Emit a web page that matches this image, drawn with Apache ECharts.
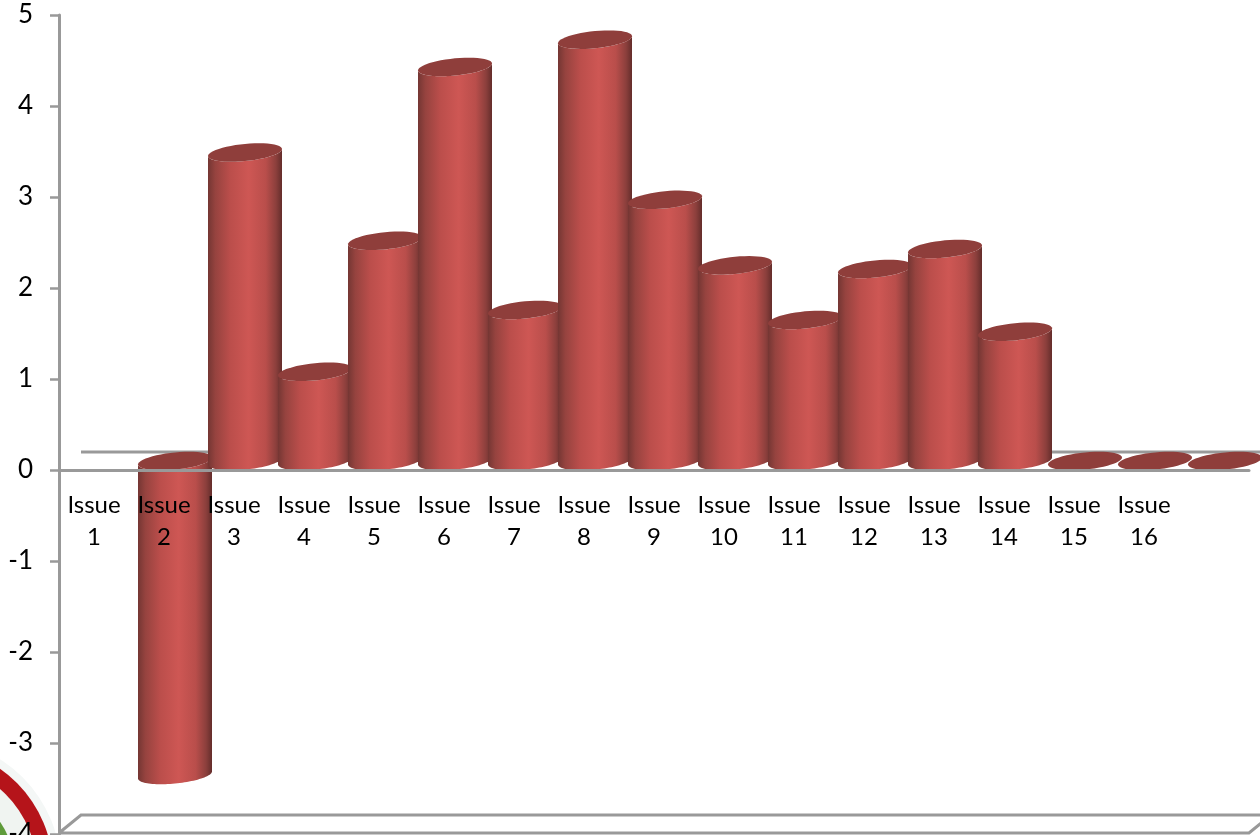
<!DOCTYPE html>
<html>
<head>
<meta charset="utf-8">
<style>
  html, body { margin: 0; padding: 0; background: #fff; }
  #chart { width: 1260px; height: 835px; }
</style>
<script src="https://cdn.jsdelivr.net/npm/echarts@6/dist/echarts.min.js"></script>
</head>
<body>
<div id="chart"></div>
<script>
// Scores per issue; Issue 1 has no reading and the last slot has no label.
const categories = ['Issue 1','Issue 2','Issue 3','Issue 4','Issue 5','Issue 6','Issue 7','Issue 8',
                    'Issue 9','Issue 10','Issue 11','Issue 12','Issue 13','Issue 14','Issue 15','Issue 16',''];
const scores = [null,-3.45,3.39,0.98,2.42,4.33,1.66,4.63,2.87,2.15,1.55,2.11,2.33,1.42,0,0,0];
const floorLevels = [-4, 0];
const yMin = -4, yMax = 5;

const GRID = { left: 59, top: 15, width: 1190, height: 819 };
const DEPTH_X = 22, DEPTH_Y = 18;      // pseudo-3D offset of the back wall
const RADIUS_X = 37, RADIUS_Y = 8.6;   // cylinder cap size
const TILT = 3.5;                      // cap skew, left end low and right end high
const AXIS_GREY = '#999999';
const FONT = 'Lato';

const body = {
  type: 'linear', x: 0, y: 0, x2: 1, y2: 0,
  colorStops: [
    { offset: 0, color: '#743633' },
    { offset: 0.1, color: '#96433f' },
    { offset: 0.3, color: '#bb4e4b' },
    { offset: 0.55, color: '#ce5754' },
    { offset: 0.78, color: '#b94e4b' },
    { offset: 0.92, color: '#8b3f3c' },
    { offset: 1, color: '#642d2b' }
  ]
};

// Point on a skewed cap outline; t=0 is the right end, t=PI the left end.
function capPoint(cx, cy, t) {
  return [cx + RADIUS_X * Math.cos(t), cy + RADIUS_Y * Math.sin(t) - TILT * Math.cos(t)];
}
function arc(cx, cy, from, to) {
  const pts = [];
  for (let i = 0; i <= 48; i++) pts.push(capPoint(cx, cy, from + (to - from) * i / 48));
  return pts;
}

function renderCylinder(params, api) {
  const v = api.value(1);
  if (v == null || isNaN(v)) return null;
  const cx = api.coord([api.value(0), 0])[0] + DEPTH_X / 2;
  const yBase = api.coord([0, 0])[1] - DEPTH_Y / 2;
  const yValue = api.coord([0, v])[1] - DEPTH_Y / 2;
  const yTop = Math.min(yBase, yValue), yBottom = Math.max(yBase, yValue);
  const children = [];
  if (yBottom > yTop) {
    children.push({
      type: 'polygon',
      shape: { points: arc(cx, yBottom, 0, Math.PI).concat(arc(cx, yTop, Math.PI, 0)) },
      style: { fill: body }
    });
  }
  children.push({
    type: 'polygon',
    shape: { points: arc(cx, yTop, 0, Math.PI * 2) },
    style: { fill: '#8f3e3b' }
  });
  return { type: 'group', children };
}

function renderFloor(params, api) {
  const level = api.value(0);
  const grid = params.coordSys;
  const y = api.coord([0, level])[1];
  const left = grid.x, right = grid.x + grid.width;
  const line = { stroke: AXIS_GREY, lineWidth: 3, fill: null };
  const back = [[left + DEPTH_X, y - DEPTH_Y], [right + DEPTH_X, y - DEPTH_Y]];
  const pts = level === 0
    ? back
    : [[left, y - 1], [left + DEPTH_X, y - DEPTH_Y - 1], [right + DEPTH_X, y - DEPTH_Y - 1], [right, y - 1], [left, y - 1]];
  return { type: 'polyline', shape: { points: pts }, style: line };
}

const chart = echarts.init(document.getElementById('chart'), null, { renderer: 'canvas' });
chart.setOption({
  animation: false,
  backgroundColor: '#ffffff',
  // Corner of the round seal behind the axis
  graphic: {
    elements: [
      { type: 'ring', silent: true, z: 0, shape: { cx: -70, cy: 870, r: 131, r0: 122 }, style: { fill: '#f4f7f6' } },
      { type: 'circle', silent: true, z: 0, shape: { cx: -70, cy: 870, r: 123 }, style: { fill: '#b5141a' } },
      { type: 'circle', silent: true, z: 0, shape: { cx: -70, cy: 870, r: 107 }, style: { fill: '#f0f4f1' } },
      { type: 'circle', silent: true, z: 0, shape: { cx: -70, cy: 870, r: 85 }, style: { fill: '#5e9b3a' } }
    ]
  },
  grid: Object.assign({ containLabel: false, outerBoundsMode: 'none' }, GRID),
  xAxis: {
    type: 'category',
    data: categories,
    z: 5,
    // The category axis sits at value 0, so shift it up from the grid's bottom edge
    offset: yMin * GRID.height / (yMax - yMin),
    axisLine: { onZero: false, lineStyle: { color: AXIS_GREY, width: 3 } },
    axisTick: { show: false },
    axisLabel: {
      interval: 0,
      margin: 19,
      color: '#000',
      fontFamily: FONT,
      fontSize: 24,
      lineHeight: 32,
      formatter: s => s.replace(' ', '\n')
    }
  },
  yAxis: {
    type: 'value',
    min: yMin,
    max: yMax,
    interval: 1,
    z: 5,
    splitLine: { show: false },
    axisLine: { show: true, lineStyle: { color: AXIS_GREY, width: 3 } },
    axisTick: { show: true, length: 9, lineStyle: { color: AXIS_GREY, width: 2.5 } },
    axisLabel: { margin: 26, color: '#000', fontFamily: FONT, fontSize: 26 }
  },
  series: [
    {
      type: 'custom',
      name: 'Floor',
      coordinateSystem: 'cartesian2d',
      renderItem: renderFloor,
      data: floorLevels.map(l => [l]),
      encode: { y: 0 },
      silent: true,
      z: 1
    },
    {
      type: 'custom',
      name: 'Score',
      coordinateSystem: 'cartesian2d',
      renderItem: renderCylinder,
      data: scores.map((v, i) => [i, v]),
      encode: { x: 0, y: 1 },
      z: 2
    }
  ]
});
</script>
</body>
</html>
